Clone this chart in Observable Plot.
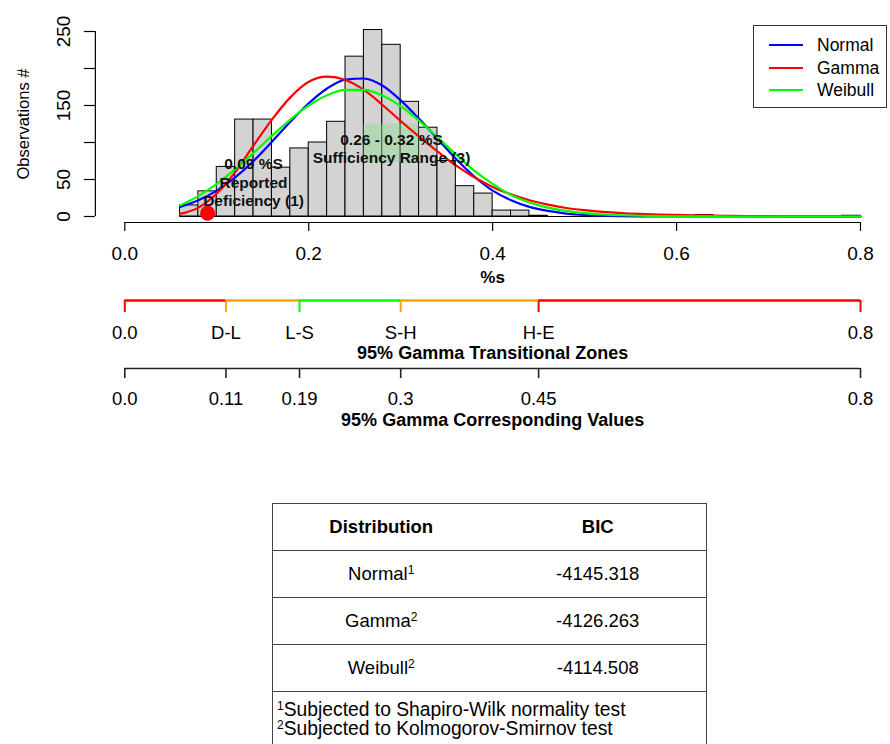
<!DOCTYPE html>
<html><head><meta charset="utf-8">
<script src="https://cdn.jsdelivr.net/npm/d3@7"></script>
<script src="https://cdn.jsdelivr.net/npm/@observablehq/plot@0.6"></script>
<style>
html,body{margin:0;padding:0;background:#fff;}
body{width:890px;height:744px;overflow:hidden;position:relative;font-family:"Liberation Sans",Arial,sans-serif;color:#000;}
.plot{position:absolute;left:0;}
#legend{position:absolute;left:753px;top:25px;width:134px;height:83px;border:1.3px solid #333;box-sizing:border-box;background:#fff;}
#legend .row{position:absolute;left:0;right:0;height:22px;}
#legend .sw{position:absolute;left:15px;width:34px;top:10px;height:0;border-top:2.2px solid;}
#legend .lb{position:absolute;left:63px;top:0;line-height:22px;font-size:17.5px;}
#tbl{position:absolute;left:272px;top:503px;width:435px;border-collapse:collapse;font-size:18.5px;}
#tbl td{border-top:1.5px solid #444;text-align:center;padding:0;height:46px;}
#tbl{border-left:1.5px solid #444;border-right:1.5px solid #444;}
#tbl tr.h td{font-weight:bold;}
#tbl td.n{text-align:left;padding:8px 0 40px 4px;line-height:19px;height:auto;vertical-align:top;font-size:19.3px;}
sup{font-size:12px;vertical-align:6px;line-height:0;}
</style>
</head><body>
<div id="a" class="plot" style="top:0"></div>
<div id="c" class="plot" style="top:360px"></div>
<div id="b" class="plot" style="top:290px"></div>
<div id="legend"></div>
<table id="tbl"></table>
<script>
// ---------- data ----------
const binEdges = [0.06,0.08,0.10,0.12,0.14,0.16,0.18,0.20,0.22,0.24,0.26,0.28,0.30,0.32,0.34,0.36,0.38,0.40,0.42,0.44,0.46,0.48,0.50,0.52,0.54,0.56,0.58,0.60,0.62,0.64,0.66,0.68,0.70,0.72,0.74,0.76,0.78,0.80];
const binCounts = [15,34,67,131,131,66,92,100,128,216,252,232,155,120,75,41,31,8,8,1,0,0,0,0,0,0,0,0,2,0,0,0,0,0,0,0,1];

const densityX = [0.06,0.08,0.10,0.12,0.14,0.16,0.18,0.20,0.22,0.24,0.26,0.28,0.30,0.32,0.34,0.36,0.38,0.40,0.42,0.44,0.46,0.48,0.50,0.52,0.54,0.56,0.58,0.60,0.62,0.64,0.66,0.68,0.70,0.72,0.74,0.76,0.78,0.80];
const normalY  = [12.9,21.8,35,52.8,75,101,128,153,173,185,186.5,177,157,132,105,78,54,35,22,13,7.5,4,2,1,0.5,0.2,0.1,0,0,0,0,0,0,0,0,0,0,0];
const gammaY   = [3.5,12,31,60,96,131,161,182,189,184.5,171,151,129,108,88,69,53,40,30,22,16,11.5,8.5,6.2,4.6,3.5,2.7,2.1,1.6,1.2,0.9,0.6,0.4,0.3,0.2,0.1,0.1,0];
const weibullY = [15,27.5,44,64,86,109,131,150,164,171,171,163.5,149,129.5,107,84,62,44,29,19,12,7.5,4.5,2.8,1.7,1,0.6,0.3,0.2,0.1,0,0,0,0,0,0,0,0];

const seriesNames  = ["Normal","Gamma","Weibull"];
const seriesColors = ["#0000ff","#ff0000","#00ff00"];
const seriesValues = [normalY, gammaY, weibullY];

const xTicks = [0,0.2,0.4,0.6,0.8];
const yTicks = [0,50,100,150,200,250];
const yTickLabels = [0,50,150,250];
const xTitle = "%s";
const yTitle = "Observations #";

const reportedPoint = {x: 0.09, y: 4.5};
const reportedText = {x: 0.14, y: 47, label: "0.09 %S\nReported\nDeficiency (1)"};
const sufficiency = {x1: 0.26, x2: 0.32, y1: 72, y2: 125};
const sufficiencyText = {x: 0.29, y: 92, label: "0.26 - 0.32 %S\nSufficiency Range (3)"};

const zoneBreaks = [0,0.11,0.19,0.30,0.45,0.8];
const zoneBreakColors = ["#ff0000","#ffa500","#00ff00","#ffa500","#ff0000","#ff0000"];
const zoneLabels = ["0.0","D-L","L-S","S-H","H-E","0.8"];
const zoneColors = ["#ff0000","#ffa500","#00ff00","#ffa500","#ff0000"];
const zoneTitle = "95% Gamma Transitional Zones";
const valueLabels = ["0.0","0.11","0.19","0.3","0.45","0.8"];
const valueTitle = "95% Gamma Corresponding Values";

const tableHeader = ["Distribution","BIC"];
const tableDist = ["Normal","Gamma","Weibull"];
const tableNote = ["1","2","2"];
const tableBIC = ["-4145.318","-4126.263","-4114.508"];
const footnotes = [["1","Subjected to Shapiro-Wilk normality test"],["2","Subjected to Kolmogorov-Smirnov test"]];

// ---------- derived tables ----------
const bins = binCounts.map((c,i)=>({x0: binEdges[i], x1: binEdges[i+1], count: c}));
const zones = zoneColors.map((c,i)=>({start: zoneBreaks[i], end: zoneBreaks[i+1], color: c}));

// ---------- layout ----------
const W = 890;
const xDomain = [0, 0.8];
const xRange = [124.3, 860];
const yDomain = [0, 250];
const yRange = [216, 31];
const pxPerX = (xRange[1]-xRange[0])/(xDomain[1]-xDomain[0]);
const axisLeft = xRange[0] - 0.04*(xDomain[1]-xDomain[0])*pxPerX;
const xMid = (xDomain[0]+xDomain[1])/2;
const yMid = (yDomain[0]+yDomain[1])/2;
const FONT = "'Liberation Sans', Arial, sans-serif";
const ANNOT = {fontFamily: FONT, fontWeight: "bold", fontSize: 15.5, fill: "#111"};
const MID = {textAnchor: "middle", lineAnchor: "middle"};

const curveMarks = seriesValues.map((vals,k)=>
  Plot.line(densityX.map((x,i)=>({x, y: vals[i]})), {x:"x", y:"y", stroke: seriesColors[k], strokeWidth: 2.2, curve: "monotone-x"}));

const plotA = Plot.plot({
  width: W, height: 290, marginLeft: axisLeft, marginRight: 0, marginTop: 31, marginBottom: 68,
  x: {domain: xDomain, range: xRange, axis: null},
  y: {domain: yDomain, range: yRange, axis: null},
  style: {fontFamily: FONT, background: "transparent", color: "#000"},
  marks: [
    Plot.rect(bins, {x1:"x0", x2:"x1", y1: () => 0, y2:"count", fill:"#d3d3d3", stroke:"#000", strokeWidth: 1}),
    Plot.ruleY([0], {x1: binEdges[0], x2: binEdges[binEdges.length-1], stroke:"#000", strokeWidth: 1}),
    Plot.rect([sufficiency], {x1:"x1", x2:"x2", y1:"y1", y2:"y2", fill:"#8fdc8f", fillOpacity: 0.45}),
    ...curveMarks,
    Plot.dot([reportedPoint], {x:"x", y:"y", r: 7.5, fill:"#ff0000", stroke: "none"}),
    Plot.text([reportedText], {x:"x", y:"y", text:"label", ...ANNOT, lineHeight: 1.17}),
    Plot.text([sufficiencyText], {x:"x", y:"y", text:"label", ...ANNOT, lineHeight: 1.12}),
    // x axis
    Plot.ruleY([0], {x1: xTicks[0], x2: xTicks[xTicks.length-1], dy: 6, stroke:"#000", strokeWidth: 1.2}),
    Plot.axisX(xTicks, {tickSize: 9, tickFormat: () => "", label: null, strokeWidth: 1.2}),
    Plot.text(xTicks, {x: d=>d, text: d=>d3.format(".1f")(d), frameAnchor:"bottom", dy: 31, fontSize: 19, ...MID}),
    Plot.text([xTitle], {x: xMid, frameAnchor:"bottom", dy: 55, fontSize: 17, fontWeight:"bold", ...MID}),
    // y axis
    Plot.ruleX([xDomain[0]], {y1: yTicks[0], y2: yTicks[yTicks.length-1], dx: axisLeft - xRange[0], stroke:"#000", strokeWidth: 1.2}),
    Plot.axisY(yTicks, {tickSize: 11, tickFormat: () => "", label: null, strokeWidth: 1.2}),
    Plot.text(yTickLabels, {y: d=>d, text: d=>String(d), frameAnchor:"left", dx: 63 - axisLeft, rotate: -90, fontSize: 19, ...MID}),
    Plot.text([yTitle], {y: yMid, frameAnchor:"left", dx: 23 - axisLeft, rotate: -90, fontSize: 16.5, ...MID})
  ]
});
document.getElementById("a").append(plotA);

const plotB = Plot.plot({
  width: W, height: 76, marginLeft: axisLeft, marginRight: 0, marginTop: 10, marginBottom: 54,
  x: {domain: xDomain, range: xRange, axis: null},
  color: {type: "identity"},
  style: {fontFamily: FONT, background: "transparent", color: "#000"},
  marks: [
    Plot.ruleX(zoneBreaks, {x: d=>d, stroke: (d,i)=>zoneBreakColors[i], strokeWidth: 2}),
    Plot.ruleY(zones, {x1:"start", x2:"end", y: null, stroke:"color", strokeWidth: 2.5, dy: -6}),
    Plot.text(zoneBreaks, {x: d=>d, text: (d,i)=>zoneLabels[i], frameAnchor:"bottom", dy: 21, fontSize: 18.5, ...MID}),
    Plot.text([zoneTitle], {x: xMid, frameAnchor:"bottom", dy: 41, fontSize: 18, fontWeight:"bold", ...MID})
  ]
});
document.getElementById("b").append(plotB);

const plotC = Plot.plot({
  width: W, height: 80, marginLeft: axisLeft, marginRight: 0, marginTop: 8, marginBottom: 62,
  x: {domain: xDomain, range: xRange, axis: null},
  style: {fontFamily: FONT, background: "transparent", color: "#000"},
  marks: [
    Plot.ruleX(zoneBreaks, {x: d=>d, stroke:"#222", strokeWidth: 1.6}),
    Plot.ruleY([valueTitle], {x1: zoneBreaks[0], x2: zoneBreaks[zoneBreaks.length-1], y: null, stroke:"#222", strokeWidth: 1.6, dy: -5}),
    Plot.text(zoneBreaks, {x: d=>d, text: (d,i)=>valueLabels[i], frameAnchor:"bottom", dy: 21, fontSize: 18.5, ...MID}),
    Plot.text([valueTitle], {x: xMid, frameAnchor:"bottom", dy: 42, fontSize: 18, fontWeight:"bold", ...MID})
  ]
});
document.getElementById("c").append(plotC);

// ---------- legend ----------
const legend = document.getElementById("legend");
const rowTops = [8, 30.5, 52.5];
seriesNames.forEach((n,i)=>{
  const r = document.createElement("div");
  r.className = "row"; r.style.top = rowTops[i] + "px";
  r.innerHTML = `<div class="sw" style="border-color:${seriesColors[i]}"></div><div class="lb">${n}</div>`;
  legend.append(r);
});

// ---------- table ----------
const tbl = document.getElementById("tbl");
let html = `<tr class="h"><td style="width:50%">${tableHeader[0]}</td><td>${tableHeader[1]}</td></tr>`;
tableDist.forEach((d,i)=>{
  html += `<tr><td>${d}<sup>${tableNote[i]}</sup></td><td>${tableBIC[i]}</td></tr>`;
});
html += `<tr><td class="n" colspan="2">${footnotes.map(f=>`<sup>${f[0]}</sup>${f[1]}`).join("<br>")}</td></tr>`;
tbl.innerHTML = html;
</script>
</body></html>
